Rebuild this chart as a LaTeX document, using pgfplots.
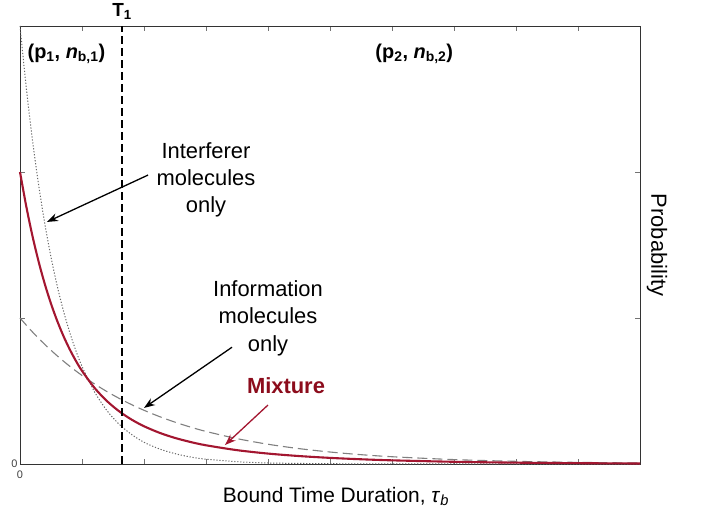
\documentclass[border=0pt]{standalone}
\usepackage{pgfplots}
\pgfplotsset{compat=1.18}
\usepackage{fontspec}
\setmainfont{Liberation Sans}
\usetikzlibrary{arrows.meta}
\definecolor{mixred}{RGB}{163,22,48}
\definecolor{mixtext}{RGB}{140,12,28}
\begin{document}
\begin{tikzpicture}
\begin{axis}[
  at={(0,0)}, anchor=south west,
  scale only axis, width=620bp, height=438bp,
  xmin=0, xmax=10, ymin=0, ymax=3,
  clip=false,
  axis line style={black!80, line width=0.7bp},
  xtick={0,1,...,10}, xticklabels={0,,,,,,,,,,},
  ytick={0,1,2,3}, yticklabels={0,,,},
  tick style={black!55, line width=0.7bp},
  major tick length=5bp,
  tick align=inside,
  /pgf/number format/assume math mode=true,
  tick label style={font=\fontsize{11}{13}\selectfont, text=black!75},
  xticklabel style={yshift=-3bp},
  yticklabel style={xshift=1bp},
]
% Interferer molecules only (dotted)
\addplot[black!60, line width=1bp, dash pattern=on 1.2bp off 1.8bp, smooth] coordinates {
(0,3.000) (0.1,2.582) (0.2,2.222) (0.3,1.913) (0.4,1.646) (0.5,1.417) (0.6,1.220)
(0.7,1.050) (0.8,0.904) (0.9,0.778) (1.0,0.669) (1.2,0.496) (1.4,0.367) (1.6,0.272)
(1.8,0.202) (2.0,0.149) (2.25,0.103) (2.5,0.071) (2.75,0.048) (3.0,0.033) (3.5,0.016)
(4.0,0.007) (4.5,0.004) (5.0,0.002) (6.0,0.0004) (7.0,0.0001) (8.0,0) (9.0,0) (10.0,0)};
% Information molecules only (dashed)
\addplot[black!50, line width=1.1bp, dash pattern=on 10bp off 5bp, smooth] coordinates {
(0,1.000) (0.2,0.9048) (0.4,0.8187) (0.6,0.7408) (0.8,0.6703) (1.0,0.6065) (1.2,0.5488)
(1.4,0.4966) (1.6,0.4493) (1.8,0.4066) (2.0,0.3679) (2.25,0.3247) (2.5,0.2865)
(2.75,0.2528) (3.0,0.2231) (3.5,0.1738) (4.0,0.1353) (4.5,0.1054) (5.0,0.0821)
(5.5,0.0639) (6.0,0.0498) (7.0,0.0302) (8.0,0.0183) (9.0,0.0111) (10.0,0.0067)};
% Mixture (solid red)
\addplot[mixred, line width=2.1bp, smooth] coordinates {
(0,2.000) (0.1,1.7667) (0.2,1.5637) (0.3,1.3868) (0.4,1.2326) (0.5,1.0980) (0.6,0.9803)
(0.7,0.8773) (0.8,0.7869) (0.9,0.7077) (1.0,0.6380) (1.2,0.5224) (1.4,0.4320)
(1.6,0.3607) (1.8,0.3041) (2.0,0.2586) (2.25,0.2137) (2.5,0.1785) (2.75,0.1507)
(3.0,0.1282) (3.5,0.0948) (4.0,0.0714) (4.5,0.0545) (5.0,0.0419) (5.5,0.0324)
(6.0,0.0251) (7.0,0.0151) (8.0,0.0092) (9.0,0.0056) (10.0,0.0034)};
% Threshold T1
\addplot[black, line width=2.4bp, dash pattern=on 8bp off 4bp] coordinates {(1.645,0) (1.645,3)};

\node[anchor=south, font=\fontsize{19}{22}\selectfont\bfseries, inner sep=0pt] at (axis cs:1.645,3.04) {T\textsubscript{1}};
\node[anchor=west, font=\fontsize{20}{24}\selectfont\bfseries, inner sep=0pt] at (axis cs:0.12,2.81) {(p\textsubscript{1}, \textit{n}\textsubscript{b,1})};
\node[anchor=west, font=\fontsize{20}{24}\selectfont\bfseries, inner sep=0pt] at (axis cs:5.73,2.81) {(p\textsubscript{2}, \textit{n}\textsubscript{b,2})};

\node[align=center, font=\fontsize{22}{27}\selectfont] at (axis cs:3.0,1.945) {Interferer\\molecules\\only};
\draw[black, line width=1.3bp, -{Stealth[length=11bp,width=8bp]}] (axis cs:2.065,1.979) -- (axis cs:0.435,1.658);

\node[align=center, font=\fontsize{22}{27.5}\selectfont] at (axis cs:4.0,1.0) {Information\\molecules\\only};
\draw[black, line width=1.3bp, -{Stealth[length=11bp,width=8bp]}] (axis cs:3.42,0.80) -- (axis cs:2.0,0.384);

\node[font=\fontsize{22}{26}\selectfont\bfseries, text=mixtext] at (axis cs:4.29,0.534) {Mixture};
\draw[mixred, line width=1.3bp, -{Stealth[length=11bp,width=8bp]}] (axis cs:4.0,0.404) -- (axis cs:3.306,0.130);

\node[rotate=-90, font=\fontsize{22}{26}\selectfont] at ([xshift=17bp]rel axis cs:1,0.5) {Probability};
\node[anchor=base west, inner sep=0pt, font=\fontsize{21}{25}\selectfont] at ([yshift=-38bp]rel axis cs:0.327,0) {Bound Time Duration, \textit{τ}\textsubscript{\textit{b}}};
\end{axis}
\pgfresetboundingbox
\path[use as bounding box] (-20bp,-48bp) rectangle (682bp,464bp);
\end{tikzpicture}
\end{document}
